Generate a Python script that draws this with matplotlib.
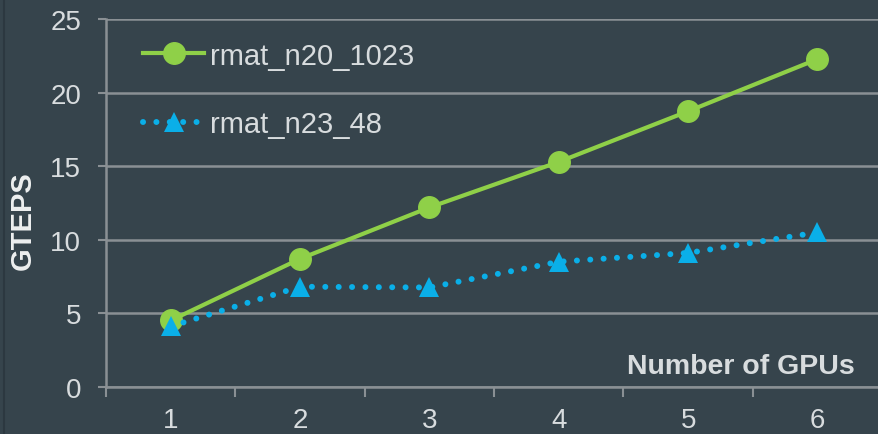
import matplotlib
matplotlib.use("Agg")
import matplotlib.pyplot as plt
from matplotlib.lines import Line2D

gpus = [1, 2, 3, 4, 5, 6]
rmat_n20_1023 = [4.5, 8.7, 12.2, 15.3, 18.75, 22.3]
rmat_n23_48 = [4.1, 6.8, 6.75, 8.5, 9.1, 10.5]
y_ticks = [0, 5, 10, 15, 20, 25]

bg = "#36444c"
grid_col = "#8a9094"
label_col = "#d8dcde"
green = "#8fd048"
blue = "#0aafe8"

plt.rcParams['font.family'] = ['Liberation Sans', 'DejaVu Sans']

fig = plt.figure(figsize=(8.79, 4.35), dpi=100, facecolor=bg)
ax = fig.add_axes([0.1206, 0.109, 0.883, 0.844])
ax.set_facecolor(bg)

ax.plot(gpus, rmat_n20_1023, color=green, lw=3, marker='o', ms=15.5,
        label="rmat_n20_1023", zorder=3)
ax.plot(gpus, rmat_n23_48, color=blue, lw=4.3, linestyle=(0, (0.01, 2.23)),
        dash_capstyle='round', marker='^', ms=15, markeredgewidth=0,
        label="rmat_n23_48", zorder=4)

ax.set_xlim(0.5, 6.5)
ax.set_ylim(0, 25)

# category boundaries get the tick marks, centres get the labels
ax.set_xticks([x + 0.5 for x in range(0, 7)])
ax.set_xticklabels([])
ax.set_xticks(gpus, minor=True)
ax.set_xticklabels([str(g) for g in gpus], minor=True)
ax.tick_params(axis='x', which='major', length=7, width=1.5, color=grid_col)
ax.tick_params(axis='x', which='minor', length=0, pad=15, labelsize=20,
               labelcolor=label_col)

ax.set_yticks(y_ticks)
ax.tick_params(axis='y', length=6, width=1.5, color=grid_col, pad=12,
               labelsize=20, labelcolor=label_col)
ax.yaxis.grid(True, color=grid_col, lw=1.8)
ax.set_axisbelow(True)

for side in ['top', 'right']:
    ax.spines[side].set_visible(False)
for side in ['left', 'bottom']:
    ax.spines[side].set_color(grid_col)
    ax.spines[side].set_linewidth(1.8)

ax.set_ylabel("GTEPS", fontsize=21, fontweight='bold', color="#eef0f0")
ax.yaxis.set_label_coords(-0.089, 0.456)
ax.text(0.965, 0.056, "Number of GPUs", transform=ax.transAxes, ha='right',
        va='center', fontsize=20.5, fontweight='bold', color=label_col)

leg = ax.legend(loc='upper left', bbox_to_anchor=(0.014, 1.011), frameon=False,
                fontsize=21, labelcolor=label_col, handlelength=2.1,
                handletextpad=0.2, labelspacing=1.4)

fig.add_artist(Line2D([0.004, 0.004], [0, 1], color="#2c3840", lw=1.5))

fig.savefig("out.png", dpi=100, facecolor=bg)
